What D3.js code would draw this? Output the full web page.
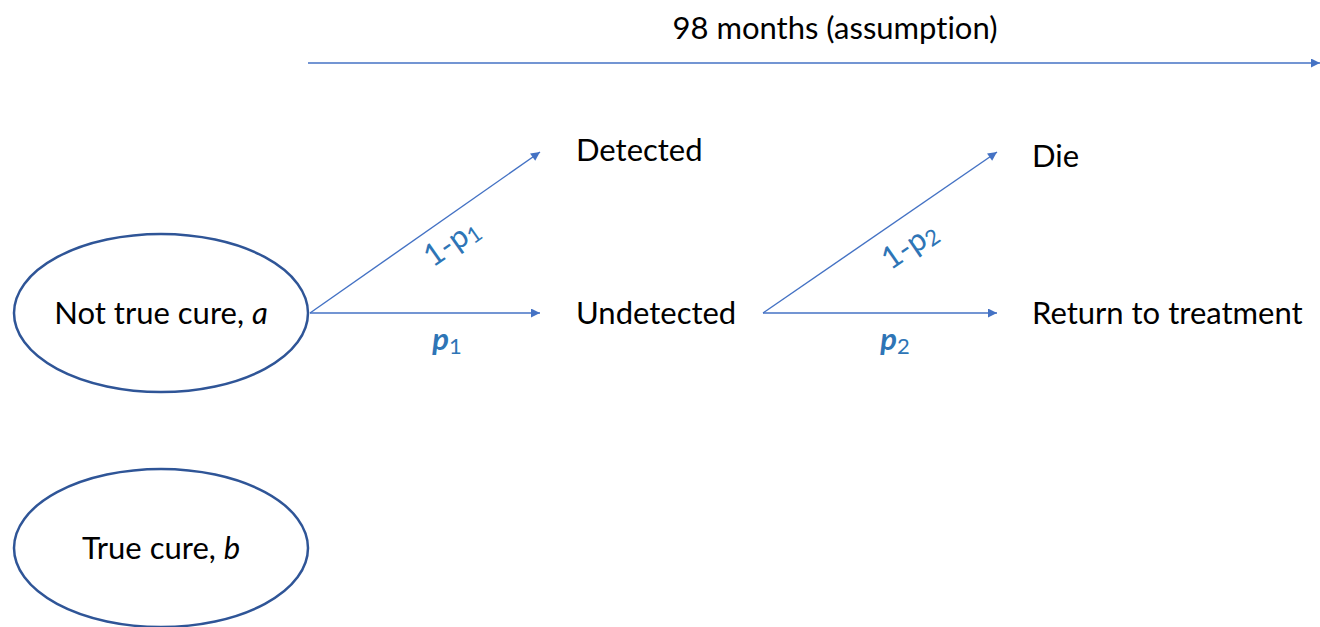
<!DOCTYPE html>
<html>
<head>
<meta charset="utf-8">
<script src="https://cdn.jsdelivr.net/npm/d3@7"></script>
<style>
  body { margin: 0; background: #fff; }
  svg text { font-family: Lato, "Open Sans", sans-serif; font-variant-ligatures: none; }
</style>
</head>
<body>
<div id="chart"></div>
<script>
// states, branches and probability labels
const states = ["Not true cure, ", "True cure, "];
const stateVars = ["a", "b"];
const stage1 = ["Detected", "Undetected"];
const stage1Prob = [["1-p", "1"], ["p", "1"]];
const stage2 = ["Die", "Return to treatment"];
const stage2Prob = [["1-p", "2"], ["p", "2"]];
const timeline = "98 months (assumption)";

const width = 1320, height = 627;
const fs = 31;
const arrowColor = "#4472C4", labelColor = "#2E75B6";

// arrow start / end for each step
const x = d3.scaleLinear().domain([0, 1]).range([310, 540]);
const x2 = d3.scaleLinear().domain([0, 1]).range([763, 997]);
const row = d3.scaleOrdinal().domain(["up", "mid", "low"]).range([152, 313, 548]);

const svg = d3.select("#chart").append("svg")
  .attr("width", width)
  .attr("height", height);

svg.append("defs").append("marker")
  .attr("id", "head")
  .attr("viewBox", "0 0 10 10")
  .attr("refX", 10).attr("refY", 5)
  .attr("markerWidth", 11).attr("markerHeight", 9)
  .attr("markerUnits", "userSpaceOnUse")
  .attr("orient", "auto")
  .append("path")
  .attr("d", "M0,0 L10,5 L0,10 Z")
  .attr("fill", arrowColor);

// timeline
svg.append("line")
  .attr("x1", 308).attr("y1", 63).attr("x2", 1320).attr("y2", 63)
  .attr("stroke", arrowColor).attr("stroke-width", 1.6)
  .attr("marker-end", "url(#head)");
svg.append("text")
  .attr("x", 835).attr("y", 39)
  .attr("text-anchor", "middle")
  .attr("font-size", fs)
  .text(timeline);

// state ellipses
const ellRows = ["mid", "low"];
const ell = svg.selectAll("g.state").data(states).join("g")
  .attr("class", "state")
  .attr("transform", (d, i) => `translate(161,${row(ellRows[i])})`);
ell.append("ellipse")
  .attr("rx", 147).attr("ry", 79)
  .attr("fill", "none")
  .attr("stroke", "#2F5597")
  .attr("stroke-width", 2.5);
ell.append("text")
  .attr("text-anchor", "middle")
  .attr("y", 11)
  .attr("font-size", fs)
  .each(function(d, i) {
    const t = d3.select(this);
    t.append("tspan").text(d);
    t.append("tspan").attr("font-style", "italic").text(stateVars[i]);
  });

// branch arrows
function branch(xs, names, probs, labelX, baseOff, angleLabelPos, flatLabelPos) {
  const rows = ["up", "mid"];
  svg.selectAll(null).data(names).join("line")
    .attr("x1", xs(0)).attr("y1", row("mid"))
    .attr("x2", xs(1)).attr("y2", (d, i) => row(rows[i]))
    .attr("stroke", arrowColor).attr("stroke-width", 1.4)
    .attr("marker-end", "url(#head)");

  svg.selectAll(null).data(names).join("text")
    .attr("x", labelX)
    .attr("y", (d, i) => row(rows[i]) + baseOff[i])
    .attr("font-size", fs)
    .text(d => d);

  const ang = Math.atan2(row("up") - row("mid"), xs(1) - xs(0)) * 180 / Math.PI;
  const pos = [angleLabelPos, flatLabelPos];
  svg.selectAll(null).data(probs).join("text")
    .attr("transform", (d, i) => `translate(${pos[i][0]},${pos[i][1]}) rotate(${i === 0 ? ang : 0})`)
    .attr("text-anchor", "middle")
    .attr("dy", "0.35em")
    .attr("font-size", fs)
    .attr("fill", labelColor)
    .each(function(d, i) {
      const t = d3.select(this);
      t.append("tspan").attr("font-style", i === 1 ? "italic" : "normal")
        .attr("font-weight", i === 1 ? "bold" : "normal").text(d[0]);
      t.append("tspan").attr("font-size", 22).attr("dy", 4).text(d[1]);
    });
}

branch(x, stage1, stage1Prob, 576, [9, 11], [451, 242], [447, 339]);
branch(x2, stage2, stage2Prob, 1032, [15, 11], [909, 245], [895, 339]);
</script>
</body>
</html>
